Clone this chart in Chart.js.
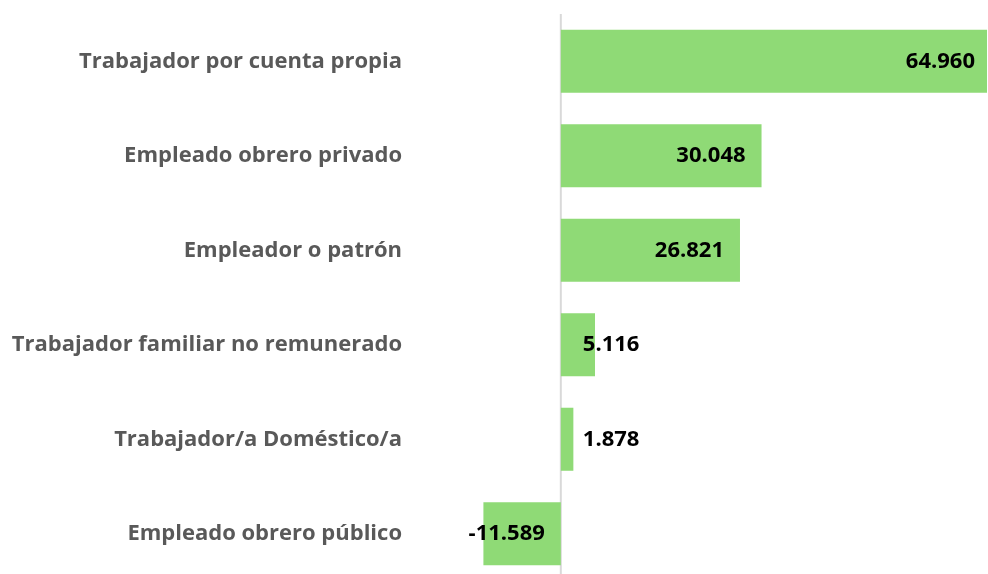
<!DOCTYPE html>
<html>
<head>
<meta charset="utf-8">
<script src="https://cdn.jsdelivr.net/npm/chart.js@4/dist/chart.umd.min.js"></script>
<style>
  html, body { margin: 0; padding: 0; background: #fff; overflow: hidden; }
  canvas { display: block; }
</style>
</head>
<body>
<canvas id="grafico" width="988" height="581"></canvas>
<script>
// Datos del gráfico
const categorias = [
    'Trabajador por cuenta propia',
    'Empleado obrero privado',
    'Empleador o patrón',
    'Trabajador familiar no remunerado',
    'Trabajador/a Doméstico/a',
    'Empleado obrero público'
];
const valores = [64960, 30048, 26821, 5116, 1878, -11589];
const etiquetas = ['64.960', '30.048', '26.821', '5.116', '1.878', '-11.589'];

const verde = '#8fda76';

// Línea vertical en el cero
const lineaCero = {
    id: 'lineaCero',
    beforeDatasetsDraw(chart) {
        const ctx = chart.ctx;
        const x = chart.scales.x.getPixelForValue(0);
        ctx.save();
        ctx.strokeStyle = '#d9d9d9';
        ctx.lineWidth = 2;
        ctx.beginPath();
        ctx.moveTo(x, chart.chartArea.top);
        ctx.lineTo(x, chart.chartArea.bottom);
        ctx.stroke();
        ctx.restore();
    }
};

// Etiquetas de valor sobre las barras
const etiquetasValor = {
    id: 'etiquetasValor',
    afterDatasetsDraw(chart) {
        const ctx = chart.ctx;
        const meta = chart.getDatasetMeta(0);
        const cero = chart.scales.x.getPixelForValue(0);
        const derecha = chart.chartArea.right;
        ctx.save();
        ctx.font = 'bold 22px "Open Sans"';
        ctx.fillStyle = '#000';
        ctx.textBaseline = 'middle';
        meta.data.forEach(function(barra, i) {
            const texto = etiquetas[i];
            const ancho = ctx.measureText(texto).width;
            const fin = Math.min(barra.x, derecha);
            if (valores[i] < 0) {
                ctx.textAlign = 'right';
                ctx.fillText(texto, cero - 16, barra.y);
            } else if (fin - cero > ancho + 40) {
                ctx.textAlign = 'right';
                ctx.fillText(texto, fin - (barra.x >= derecha ? 12 : 16), barra.y);
            } else {
                ctx.textAlign = 'left';
                ctx.fillText(texto, cero + 22, barra.y);
            }
        });
        ctx.restore();
    }
};

new Chart(document.getElementById('grafico'), {
    type: 'bar',
    data: {
        labels: categorias,
        datasets: [{
            data: valores,
            backgroundColor: verde,
            borderWidth: 0,
            categoryPercentage: 1,
            barPercentage: 0.667
        }]
    },
    options: {
        indexAxis: 'y',
        responsive: false,
        animation: false,
        layout: { padding: { top: 14, right: 1, bottom: 0, left: 0 } },
        plugins: {
            legend: { display: false },
            tooltip: { enabled: false }
        },
        scales: {
            x: {
                min: -11800,
                max: 63800,
                display: false
            },
            y: {
                afterFit(scale) {
                    scale.width = 482;
                    scale.paddingTop = 0;
                    scale.paddingBottom = 0;
                },
                grid: { display: false, drawTicks: false },
                border: { display: false },
                ticks: {
                    padding: 80,
                    color: '#595959',
                    font: { family: '"Open Sans"', size: 22, weight: 'bold' }
                }
            }
        }
    },
    plugins: [lineaCero, etiquetasValor]
});
</script>
</body>
</html>
